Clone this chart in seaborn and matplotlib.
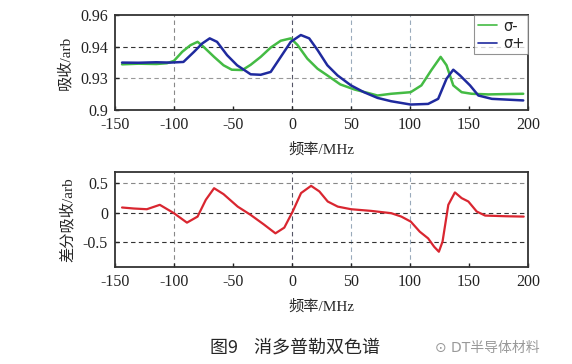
import pandas as pd
import matplotlib.pyplot as plt
import seaborn as sns

# top panel: absorption, sigma- (green) and sigma+ (blue)
x_minus = [-144, -130, -115, -106, -100, -93, -86, -80, -75, -66, -58, -51, -42, -35, -26.5, -18, -9.5, -1, 4.7, 13,
           21.7, 30, 41, 53, 64, 72.5, 84, 100.6, 109.7, 118, 126, 131, 136.7, 143.8, 152.3, 166.5, 180, 196]
y_minus = [0.9288, 0.9292, 0.9290, 0.9295, 0.931, 0.9367, 0.9409, 0.943, 0.9399, 0.9335, 0.9282, 0.9254, 0.9252, 0.9285,
           0.9335, 0.9394, 0.9437, 0.9452, 0.941, 0.9324, 0.926, 0.9218, 0.9161, 0.9129, 0.9108, 0.9091, 0.9102, 0.9112,
           0.9155, 0.925, 0.9335, 0.9282, 0.9155, 0.9112, 0.9102, 0.9098, 0.9100, 0.9102]

x_plus = [-144, -130, -115, -103, -92, -83, -76, -69.7, -63.5, -55, -46.5, -38, -35, -26.5, -18, -9.5, -1, 7.5, 14.6,
          21.7, 30, 38.6, 50, 61, 72.5, 84, 100.6, 115.4, 123.9, 131, 136.7, 142.4, 150.9, 158, 169.4, 196]
y_plus = [0.9299, 0.9298, 0.9301, 0.9299, 0.9303, 0.9367, 0.942, 0.9452, 0.943, 0.9346, 0.9282, 0.924, 0.9225, 0.9222,
          0.924, 0.9335, 0.943, 0.9473, 0.9452, 0.9378, 0.9282, 0.9218, 0.9155, 0.9112, 0.9076, 0.9055, 0.9034, 0.9038,
          0.907, 0.9197, 0.9254, 0.9218, 0.9155, 0.9091, 0.907, 0.906]

# bottom panel: differential absorption
x_diff = [-144, -134, -123, -112, -100, -89, -80, -73, -66, -58, -46, -35, -24, -14, -6.5, 0.6, 7.7, 16.2, 23.2, 30.3,
          38.8, 50.1, 67.1, 84.2, 92.7, 100.7, 108.3, 115.4, 120.5, 124.5, 127.6, 132.5, 138.1, 143.8, 149.5, 156.6,
          163.7, 180.8, 196.4]
y_diff = [0.085, 0.068, 0.056, 0.13, -0.011, -0.17, -0.068, 0.215, 0.41, 0.31, 0.10, -0.04, -0.198, -0.35, -0.254,
          0.017, 0.328, 0.45, 0.356, 0.186, 0.10, 0.056, 0.028, -0.011, -0.068, -0.153, -0.322, -0.435, -0.576, -0.66,
          -0.49, 0.13, 0.339, 0.243, 0.186, 0.017, -0.051, -0.062, -0.068]

xticks = [-150, -100, -50, 0, 50, 100, 150, 200]
top_ticks = [0.90, 0.92, 0.94, 0.96]
top_labels = ['0.9', '0.93', '0.94', '0.96']
bot_ticks = [-0.5, 0, 0.5]
bot_labels = ['-0.5', '0', '0.5']

sns.set_style("ticks")
plt.rcParams['font.family'] = ['Liberation Serif', 'Noto Sans CJK SC', 'DejaVu Sans']
plt.rcParams['font.size'] = 11
plt.rcParams['axes.unicode_minus'] = False

fig = plt.figure(figsize=(5.72, 3.64), dpi=100)
ax1 = fig.add_axes([0.201, 0.698, 0.722, 0.261])
ax2 = fig.add_axes([0.201, 0.266, 0.722, 0.261])

df_m = pd.DataFrame({'f': x_minus, 'a': y_minus})
df_p = pd.DataFrame({'f': x_plus, 'a': y_plus})
df_d = pd.DataFrame({'f': x_diff, 'a': y_diff})

# grid lines drawn by hand (only some positions)
for ax, hlines in [(ax1, [(0.94, '#333333'), (0.92, '#999999')]),
                   (ax2, [(0.5, '#888888'), (0, '#333333'), (-0.5, '#333333')])]:
    for v, c in [(-100, '#888888'), (0, '#555566'), (50, '#99aabb'), (100, '#99aabb')]:
        ax.axvline(v, color=c, ls=(0, (4, 3)), lw=0.8, zorder=0)
    for v, c in hlines:
        ax.axhline(v, color=c, ls=(0, (4, 3)), lw=0.8, zorder=0)

sns.lineplot(data=df_m, x='f', y='a', ax=ax1, color='#44bb44', lw=1.8, label='σ-')
sns.lineplot(data=df_p, x='f', y='a', ax=ax1, color='#1f2a9e', lw=1.8, label='σ+')
sns.lineplot(data=df_d, x='f', y='a', ax=ax2, color='#d92630', lw=1.6)

ax1.set_ylim(0.90, 0.96)
ax1.set_yticks(top_ticks)
ax1.set_yticklabels(top_labels)
ax1.set_ylabel('吸收/arb', labelpad=6)
ax2.set_ylim(-0.92, 0.68)
ax2.set_yticks(bot_ticks)
ax2.set_yticklabels(bot_labels)
ax2.set_ylabel('差分吸收/arb', labelpad=6)

for ax in (ax1, ax2):
    ax.set_xlim(-150, 200)
    ax.set_xticks(xticks)
    ax.set_xlabel('频率/MHz', labelpad=7)
    ax.tick_params(direction='in', length=3, width=1, colors='#222222', labelsize=11.5, pad=5)
    for s in ax.spines.values():
        s.set_visible(True)
        s.set_linewidth(1.3)
        s.set_color('#333333')

leg = ax1.legend(loc='upper right', frameon=True, fancybox=False, borderaxespad=0,
                 handlelength=1.3, borderpad=0.25, labelspacing=0.15, handletextpad=0.4,
                 prop={'family': ['DejaVu Sans'], 'size': 10.5})
leg.get_frame().set_edgecolor('#777777')
leg.get_frame().set_linewidth(0.8)
for line in leg.get_lines():
    line.set_linewidth(1.2)

fig.text(0.515, 0.044, '图9    消多普勒双色谱', ha='center', va='center', fontsize=13,
         family=['Noto Sans CJK SC'])
fig.text(0.76, 0.044, '⊙ DT半导体材料', ha='left', va='center', fontsize=10,
         color='#999999', family=['DejaVu Sans', 'Noto Sans CJK SC'])

fig.savefig('out.png', dpi=100)
